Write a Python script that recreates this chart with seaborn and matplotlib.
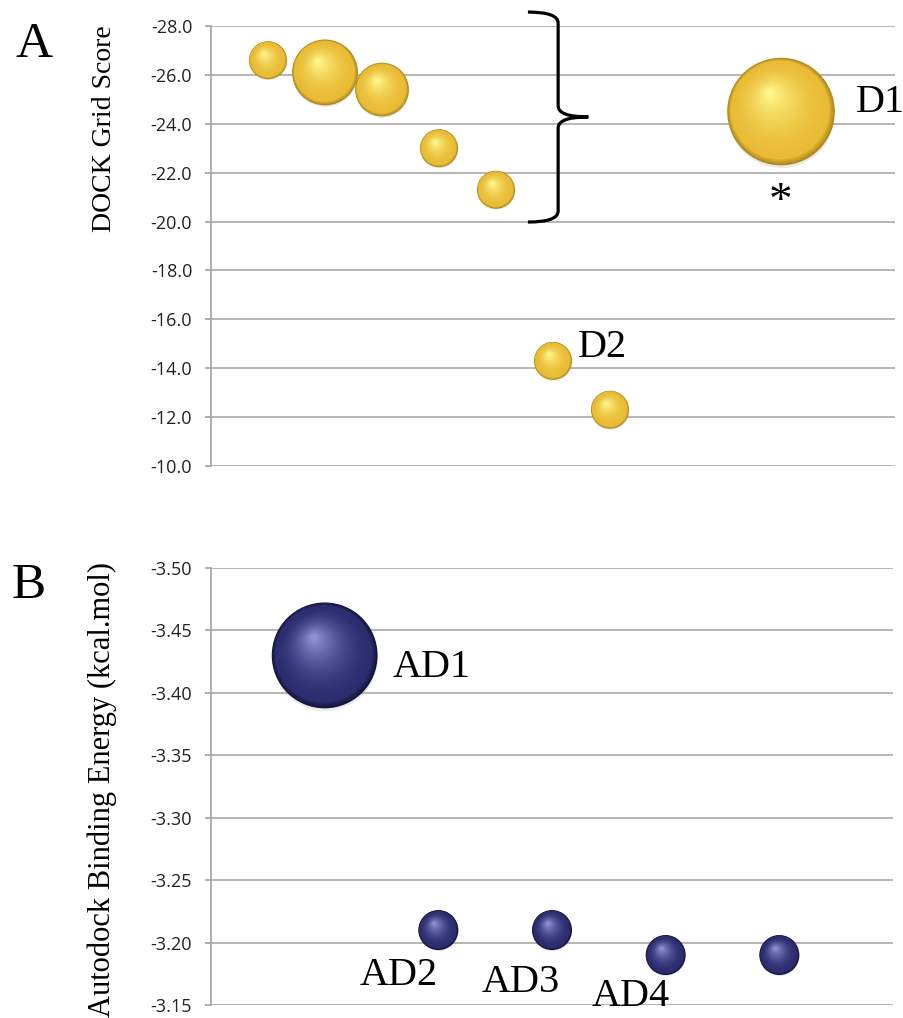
import numpy as np
import pandas as pd
import matplotlib
matplotlib.use("Agg")
import matplotlib.pyplot as plt
import matplotlib.transforms as mtransforms
from matplotlib.path import Path
from matplotlib.patches import PathPatch
from matplotlib.colors import to_rgb
import seaborn as sns

# ---------------- data ----------------
dock_pose = [1, 2, 3, 4, 5, 6, 7, 10]
dock_score = [-26.6, -26.1, -25.4, -23.0, -21.3, -14.3, -12.3, -24.5]
dock_size = [1, 3, 2, 1, 1, 1, 1, 8]
dock_yticks = [-28.0, -26.0, -24.0, -22.0, -20.0, -18.0, -16.0, -14.0, -12.0, -10.0]

ad_pose = [1, 2, 3, 4, 5]
ad_energy = [-3.43, -3.21, -3.21, -3.19, -3.19]
ad_size = [7, 1, 1, 1, 1]
ad_yticks = [-3.50, -3.45, -3.40, -3.35, -3.30, -3.25, -3.20, -3.15]

dock_labels = ["D1", "*", "D2"]
ad_labels = ["AD1", "AD2", "AD3", "AD4"]

# ---------------- style ----------------
sns.set_theme(style="white")
plt.rcParams["font.family"] = ["Open Sans", "DejaVu Sans"]
plt.rcParams["text.color"] = "black"
plt.rcParams["axes.labelcolor"] = "black"
SERIF = ["Liberation Serif", "DejaVu Serif"]

fig = plt.figure(figsize=(9.04, 10.18), dpi=100)
axA = fig.add_axes([211 / 904, 1 - 466 / 1018, 684 / 904, 440 / 1018])
axB = fig.add_axes([211 / 904, 1 - 1005 / 1018, 682 / 904, 437 / 1018])


def blend(c1, c2, t):
    a, b = np.array(to_rgb(c1)), np.array(to_rgb(c2))
    return tuple(a + (b - a) * t)


def spheres(ax, df, unit, dark, base, light):
    smin, smax = df["size"].min(), df["size"].max()
    norm = (smin, smax)
    # soft shadow
    for g, sub in df.groupby("size"):
        r = np.sqrt(unit * g) / 2.0
        tr = ax.transData + mtransforms.ScaledTranslation(
            0.3 / 72, -0.06 * r / 72, fig.dpi_scale_trans)
        sns.scatterplot(data=sub, x="x", y="y", size="size",
                        sizes=(unit * smin * 0.98, unit * smax * 0.98), size_norm=norm,
                        color="#888888", alpha=0.18, edgecolor="none", legend=False,
                        ax=ax, transform=tr, zorder=3, clip_on=False)
    fs = np.linspace(1.0, 0.06, 36)
    for f in fs:
        if f > 0.92:
            col = blend(dark, base, (1.0 - f) / 0.08)
        else:
            col = blend(base, light, ((0.92 - f) / 0.86) ** 1.8)
        for g, sub in df.groupby("size"):
            r = np.sqrt(unit * g) / 2.0
            dx = -(1 - f) * r * 0.22
            dy = (1 - f) * r * 0.36
            tr = ax.transData + mtransforms.ScaledTranslation(
                dx / 72, dy / 72, fig.dpi_scale_trans)
            sns.scatterplot(data=sub, x="x", y="y", size="size",
                            sizes=(unit * smin * f * f, unit * smax * f * f), size_norm=norm,
                            color=col, edgecolor="none", linewidth=0, legend=False,
                            ax=ax, transform=tr, zorder=4, clip_on=False)


def style_axis(ax, ticks, fmt, ylim, xlim):
    ax.set_xlim(*xlim)
    ax.set_ylim(*ylim)
    ax.set_yticks(ticks)
    ax.set_yticklabels([fmt.format(t) for t in ticks], fontsize=13, color="#222222")
    ax.set_xticks([])
    for s in ["top", "right", "bottom"]:
        ax.spines[s].set_visible(False)
    ax.spines["left"].set_color("#A8A8A8")
    ax.spines["left"].set_linewidth(1.3)
    ax.tick_params(axis="y", length=4.5, width=1.3, color="#A8A8A8", pad=9, left=True)
    ax.yaxis.grid(True, color="#B0B0B0", linewidth=1.3)
    ax.xaxis.grid(False)
    ax.set_axisbelow(True)
    ax.set_xlabel("")


# ---------------- panel A ----------------
dfA = pd.DataFrame({"x": dock_pose, "y": dock_score, "size": dock_size})
style_axis(axA, dock_yticks, "{:.1f}", (-10, -28), (0, 12))
spheres(axA, dfA, 750, "#B08A1C", "#E9BC36", "#FFF68A")
axA.set_ylabel("DOCK Grid Score", loc="top", fontsize=20, family=SERIF, color="black")
axA.yaxis.set_label_coords(-0.1374, 1.002)

axA.text(11.32, -24.48, dock_labels[0], fontsize=29, family=SERIF, ha="left", va="baseline")
axA.text(10.0, -21.62, dock_labels[1], fontsize=34, family=SERIF, ha="center", va="top")
axA.text(6.44, -14.46, dock_labels[2], fontsize=29, family=SERIF, ha="left", va="baseline")

# curly brace
x0, xm, xt = 5.56, 6.09, 6.62
yt, ym, yb = -28.57, -24.28, -19.98
d = 0.45
verts = [(x0, yt), (xm, yt), (xm, yt + d),
         (xm, ym - d),
         (xm, ym), (xt, ym),
         (xm, ym), (xm, ym + d),
         (xm, yb - d),
         (xm, yb), (x0, yb)]
codes = [Path.MOVETO, Path.CURVE3, Path.CURVE3,
         Path.LINETO,
         Path.CURVE3, Path.CURVE3,
         Path.CURVE3, Path.CURVE3,
         Path.LINETO,
         Path.CURVE3, Path.CURVE3]
axA.add_patch(PathPatch(Path(verts, codes), facecolor="none", edgecolor="black",
                        linewidth=2.3, clip_on=False, zorder=5))

# ---------------- panel B ----------------
dfB = pd.DataFrame({"x": ad_pose, "y": ad_energy, "size": ad_size})
style_axis(axB, ad_yticks, "{:.2f}", (-3.15, -3.50), (0, 6))
spheres(axB, dfB, 830, "#15153C", "#2C2D6E", "#8E8ED0")
axB.set_ylabel("Autodock Binding Energy (kcal.mol)", loc="top", fontsize=22,
               family=SERIF, color="black")
axB.yaxis.set_label_coords(-0.1378, 1.014)

axB.text(1.60, -3.4127, ad_labels[0], fontsize=29, family=SERIF, ha="left", va="baseline")
axB.text(1.31, -3.166, ad_labels[1], fontsize=29, family=SERIF, ha="left", va="baseline")
axB.text(2.38, -3.1604, ad_labels[2], fontsize=29, family=SERIF, ha="left", va="baseline")
axB.text(3.35, -3.1490, ad_labels[3], fontsize=29, family=SERIF, ha="left", va="baseline",
         clip_on=False)

# panel letters
fig.text(15 / 904, 1 - 57 / 1018, "A", fontsize=37, family=SERIF, va="baseline", ha="left")
fig.text(12 / 904, 1 - 598 / 1018, "B", fontsize=37, family=SERIF, va="baseline", ha="left")

fig.savefig("out.png", dpi=100)
